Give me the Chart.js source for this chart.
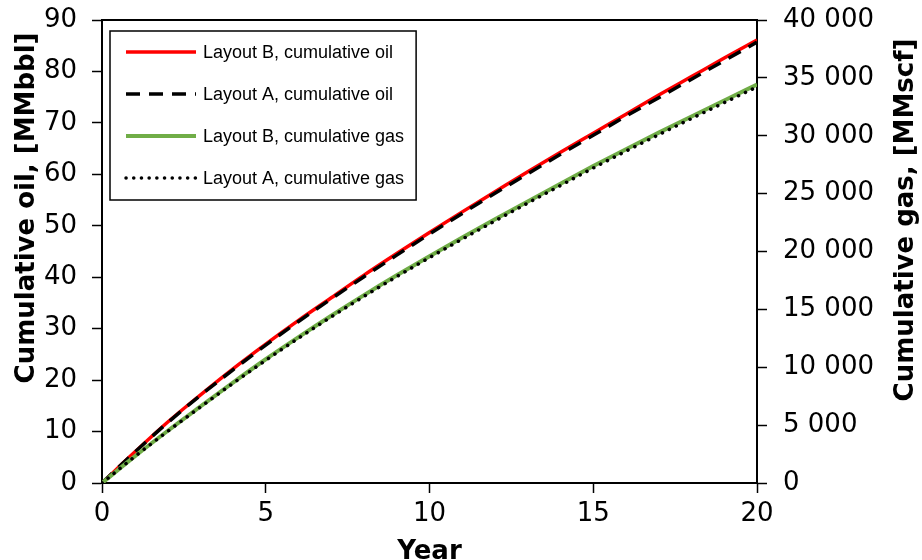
<!DOCTYPE html>
<html>
<head>
<meta charset="utf-8">
<script src="https://cdn.jsdelivr.net/npm/chart.js@4.4.1/dist/chart.umd.min.js"></script>
<style>
  html, body { margin: 0; padding: 0; background: #fff; }
  #wrap { width: 922px; height: 560px; position: relative; }
</style>
</head>
<body>
<div id="wrap"><canvas id="cumChart" width="922" height="560"></canvas></div>
<script>
// years on the x axis
const years = [0, 1, 2, 3, 4, 5, 6, 7, 8, 9, 10, 11, 12, 13, 14, 15, 16, 17, 18, 19, 20];

// cumulative oil, MMbbl
const oilLayoutB = [0, 6.0, 11.8, 17.1, 22.2, 27.0, 31.6, 36.0, 40.4, 44.6, 48.7, 52.7, 56.6, 60.5, 64.3, 68.0, 71.7, 75.4, 79.0, 82.6, 86.1];
const oilLayoutA = [0, 6.0, 11.7, 17.0, 22.0, 26.8, 31.4, 35.8, 40.1, 44.3, 48.4, 52.4, 56.3, 60.1, 63.9, 67.6, 71.3, 74.9, 78.5, 82.1, 85.7];

// cumulative gas, MMscf
const gasLayoutB = [0, 2300, 4490, 6600, 8680, 10690, 12600, 14450, 16230, 17940, 19590, 21200, 22780, 24330, 25860, 27380, 28840, 30270, 31670, 33050, 34420];
const gasLayoutA = [0, 2280, 4450, 6550, 8610, 10600, 12510, 14350, 16120, 17830, 19470, 21070, 22640, 24180, 25700, 27210, 28670, 30090, 31490, 32860, 34220];

const seriesLabels = [
  'Layout B, cumulative oil',
  'Layout A, cumulative oil',
  'Layout B, cumulative gas',
  'Layout A, cumulative gas'
];

const xTitle = 'Year';
const yOilTitle = 'Cumulative oil, [MMbbl]';
const yGasTitle = 'Cumulative gas, [MMscf]';

const fontFamily = '"DejaVu Sans", Verdana, sans-serif';
const tickFont = { family: fontFamily, size: 26 };
const titleCss = `bold 26px ${fontFamily}`;

const toPoints = (vals) => vals.map((v, i) => ({ x: years[i], y: v }));

const fmtSpace = (value) => String(value).replace(/\B(?=(\d{3})+(?!\d))/g, ' ');

const noLabelPadding = (s) => {
  s.paddingTop = 0;
  s.paddingBottom = 0;
  s.paddingLeft = 0;
  s.paddingRight = 0;
};

// legend drawn inside the plot, with a box, plus frame top and axis titles
const boxLegend = {
  id: 'boxLegend',
  afterDatasetsDraw(chart) {
    const { ctx } = chart;
    ctx.save();
    ctx.font = '18px "Liberation Sans", Arial, sans-serif';
    const textW = Math.max(...chart.data.datasets.map((ds) => ctx.measureText(ds.label).width));
    const bx = 110, by = 31, bh = 169;
    const bw = (203 - bx) + textW + 12;
    ctx.fillStyle = '#fff';
    ctx.fillRect(bx, by, bw, bh);
    ctx.strokeStyle = '#000';
    ctx.lineWidth = 1.5;
    ctx.strokeRect(bx, by, bw, bh);
    ctx.textBaseline = 'middle';
    chart.data.datasets.forEach((ds, i) => {
      const y = by + 21 + i * 42;
      ctx.beginPath();
      ctx.strokeStyle = ds.borderColor;
      ctx.lineWidth = ds.borderWidth;
      ctx.setLineDash(ds.borderDash || []);
      ctx.lineCap = ds.borderCapStyle || 'butt';
      ctx.moveTo(126, y);
      ctx.lineTo(196, y);
      ctx.stroke();
      ctx.setLineDash([]);
      ctx.fillStyle = '#000';
      ctx.fillText(ds.label, 203, y + 1);
    });
    ctx.restore();
  },
  afterDraw(chart) {
    const { ctx, chartArea: a } = chart;
    ctx.save();
    ctx.strokeStyle = '#000';
    ctx.lineWidth = 2;
    ctx.beginPath();
    ctx.moveTo(a.left, a.top);
    ctx.lineTo(a.right, a.top);
    ctx.stroke();

    ctx.font = titleCss;
    ctx.fillStyle = '#000';
    ctx.textAlign = 'center';
    ctx.textBaseline = 'alphabetic';
    ctx.fillText(xTitle, (a.left + a.right) / 2, 559);

    ctx.textBaseline = 'middle';
    ctx.translate(27, 208);
    ctx.rotate(-Math.PI / 2);
    ctx.fillText(yOilTitle, 0, 0);
    ctx.restore();

    ctx.save();
    ctx.font = titleCss;
    ctx.fillStyle = '#000';
    ctx.textAlign = 'center';
    ctx.textBaseline = 'middle';
    ctx.translate(906, 220);
    ctx.rotate(-Math.PI / 2);
    ctx.fillText(yGasTitle, 0, 0);
    ctx.restore();
  }
};

const axisGrid = {
  drawOnChartArea: false,
  drawTicks: true,
  tickLength: 10,
  tickWidth: 1.5,
  color: '#000'
};

const ctx = document.getElementById('cumChart').getContext('2d');

new Chart(ctx, {
  type: 'line',
  data: {
    datasets: [
      {
        label: seriesLabels[0],
        data: toPoints(oilLayoutB),
        yAxisID: 'y',
        borderColor: '#ff0000',
        borderWidth: 3.5,
        order: 4
      },
      {
        label: seriesLabels[1],
        data: toPoints(oilLayoutA),
        yAxisID: 'y',
        borderColor: '#000000',
        borderWidth: 3.5,
        borderDash: [14, 9],
        order: 3
      },
      {
        label: seriesLabels[2],
        data: toPoints(gasLayoutB),
        yAxisID: 'y2',
        borderColor: '#70ad47',
        borderWidth: 4,
        order: 2
      },
      {
        label: seriesLabels[3],
        data: toPoints(gasLayoutA),
        yAxisID: 'y2',
        borderColor: '#000000',
        borderWidth: 3.5,
        borderDash: [0.1, 7.6],
        borderCapStyle: 'round',
        order: 1
      }
    ]
  },
  options: {
    responsive: false,
    animation: false,
    layout: { padding: { top: 20, left: 0, right: 0, bottom: 0 } },
    elements: {
      point: { radius: 0 },
      line: { tension: 0.4, cubicInterpolationMode: 'monotone', fill: false }
    },
    scales: {
      x: {
        type: 'linear',
        min: 0,
        max: 20,
        afterFit: (s) => { s.height = 77; noLabelPadding(s); },
        border: { display: true, color: '#000', width: 2 },
        grid: axisGrid,
        ticks: { stepSize: 5, color: '#000', font: tickFont, padding: 6, maxRotation: 0 }
      },
      y: {
        position: 'left',
        min: 0,
        max: 90,
        afterFit: (s) => { s.width = 102; noLabelPadding(s); },
        border: { display: true, color: '#000', width: 2 },
        grid: axisGrid,
        ticks: { stepSize: 10, color: '#000', font: tickFont, padding: 15 }
      },
      y2: {
        position: 'right',
        min: 0,
        max: 40000,
        afterFit: (s) => { s.width = 165; noLabelPadding(s); },
        border: { display: true, color: '#000', width: 2 },
        grid: axisGrid,
        ticks: { stepSize: 5000, color: '#000', font: tickFont, padding: 16, callback: (v) => fmtSpace(v) }
      }
    },
    plugins: {
      legend: { display: false },
      tooltip: { enabled: false }
    }
  },
  plugins: [boxLegend]
});
</script>
</body>
</html>
